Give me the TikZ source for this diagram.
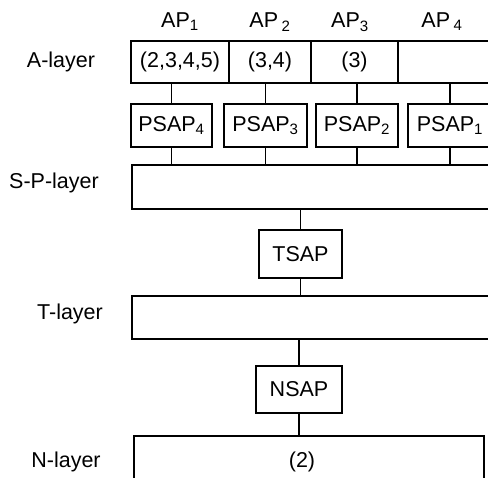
\documentclass[tikz,border=0pt]{standalone}
\usepackage{fontspec}
\setmainfont{Liberation Sans}
\begin{document}
\begin{tikzpicture}[x=1pt,y=-1pt,
  every node/.style={font=\fontsize{21.5}{25}\selectfont, inner sep=0pt, outer sep=0pt},
  cell/.style={draw, line width=1.6pt, minimum height=42pt},
  sap/.style={draw, line width=1.6pt},
  conn/.style={line width=1.7pt},
  lay/.style={anchor=center}]
\clip (0,0) rectangle (488,478);
\fill[white] (0,0) rectangle (488,478);
% AP labels
\node (ap1) at (180,22) {AP\textsubscript{1}};
\node (ap2) at (270,22) {AP\,\textsubscript{2}};
\node (ap3) at (350,22) {AP\textsubscript{3}};
\node (ap4) at (442,22) {AP\,\textsubscript{4}};
% layer labels
\node[lay] (la) at (61,62) {A-layer};
\node[lay] (lsp) at (54,183) {S-P-layer};
\node[lay] (lt) at (70,314) {T-layer};
\node[lay] (ln) at (66,462) {N-layer};
% A-layer cells
\node[cell, minimum width=98pt] (a1) at (180,62) {(2,3,4,5)};
\node[cell, minimum width=82pt] (a2) at (270,62) {(3,4)};
\node[cell, minimum width=87pt] (a3) at (354.5,62) {(3)};
\node[cell, minimum width=132pt] (a4) at (464,62) {};
% PSAPs
\node[sap, minimum width=81pt, minimum height=43pt] (p4) at (171.5,125.5) {PSAP\textsubscript{4}};
\node[sap, minimum width=83pt, minimum height=43pt] (p3) at (265.5,125.5) {PSAP\textsubscript{3}};
\node[sap, minimum width=82pt, minimum height=43pt] (p2) at (357,125.5) {PSAP\textsubscript{2}};
\node[sap, minimum width=84pt, minimum height=43pt] (p1) at (450,125.5) {PSAP\textsubscript{1}};
% S-P layer
\node[sap, minimum width=388pt, minimum height=44pt] (sp) at (326,187) {};
% TSAP
\node[sap, minimum width=83pt, minimum height=48pt] (ts) at (300.5,254) {TSAP};
% T layer
\node[sap, minimum width=388pt, minimum height=43pt] (tl) at (326,317.5) {};
% NSAP
\node[sap, minimum width=86pt, minimum height=47pt] (ns) at (299,389.5) {NSAP};
% N layer
\node[sap, minimum width=350pt, minimum height=70pt] (nl) at (309,471) {};
\node (n2) at (302,462) {(2)};
% connectors
\foreach \p/\a in {p4/a1,p3/a2,p2/a3,p1/a4}{
  \draw[conn] (\p.north) -- (\p.north |- \a.south);
  \draw[conn] (\p.south) -- (\p.south |- sp.north);
}
\draw[conn] (ts.north) -- (ts.north |- sp.south);
\draw[conn] (ts.south) -- (ts.south |- tl.north);
\draw[conn] (ns.north) -- (ns.north |- tl.south);
\draw[conn] (ns.south) -- (ns.south |- nl.north);
\end{tikzpicture}
\end{document}
